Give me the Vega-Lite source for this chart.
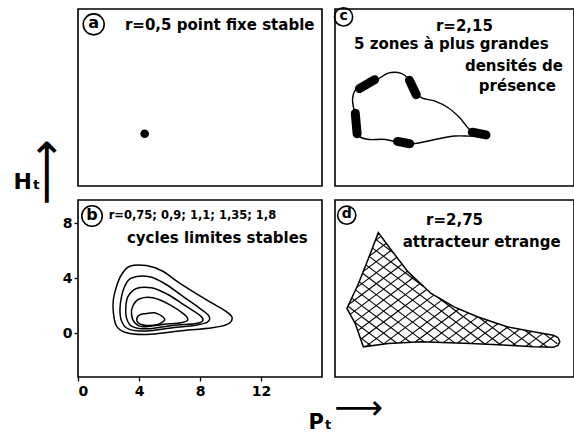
{
  "$schema": "https://vega.github.io/schema/vega-lite/v6.json",
  "background": "white",
  "padding": {"left": 12, "top": 3, "right": 0, "bottom": 4},
  "config": {
    "view": {"stroke": "black", "strokeWidth": 1.6},
    "font": "DejaVu Sans",
    "axis": {"labelFont": "DejaVu Sans", "labelFontWeight": "bold", "labelFontSize": 14, "labelColor": "black", "tickColor": "black", "tickWidth": 1.3, "domain": false, "grid": false, "titleColor": "black", "titleFont": "DejaVu Sans"},
    "text": {"font": "DejaVu Sans", "fontWeight": "bold", "color": "black"}
  },
  "datasets": {
    "fixed": [{"P": 4.37, "H": 0.61}],
    "tags": [
      {"panel": "a", "tag": "a", "P": 1.03, "H": 8.58},
      {"panel": "b", "tag": "b", "P": 0.92, "H": 8.53},
      {"panel": "c", "tag": "c", "P": 0.56, "H": 9.12},
      {"panel": "d", "tag": "d", "P": 0.77, "H": 8.59}
    ],
    "texts": [
      {"panel": "a", "kind": "r", "label": "r=0,5 point fixe stable", "P": 3.08, "H": 8.53},
      {"panel": "b", "kind": "r", "label": "r=0,75; 0,9; 1,1; 1,35; 1,8", "P": 2.01, "H": 8.53},
      {"panel": "b", "kind": "desc", "label": "cycles limites stables", "P": 3.21, "H": 6.95},
      {"panel": "c", "kind": "r", "label": "r=2,15", "P": 6.62, "H": 8.46},
      {"panel": "c", "kind": "desc", "label": "5 zones à plus grandes", "P": 1.25, "H": 7.13},
      {"panel": "c", "kind": "right", "label": "densités de", "P": 14.95, "H": 5.55},
      {"panel": "c", "kind": "right", "label": "présence", "P": 14.49, "H": 4.09},
      {"panel": "d", "kind": "r", "label": "r=2,75", "P": 5.97, "H": 8.24},
      {"panel": "d", "kind": "desc", "label": "attracteur etrange", "P": 4.44, "H": 6.66}
    ],
    "cycles": [
      {"cycle": 1, "i": 1, "P": 3.40, "H": 4.87}, {"cycle": 1, "i": 2, "P": 4.48, "H": 4.92}, {"cycle": 1, "i": 3, "P": 5.56, "H": 4.51}, {"cycle": 1, "i": 4, "P": 6.64, "H": 3.66}, {"cycle": 1, "i": 5, "P": 8.38, "H": 2.45}, {"cycle": 1, "i": 6, "P": 9.68, "H": 1.60}, {"cycle": 1, "i": 7, "P": 10.11, "H": 1.11}, {"cycle": 1, "i": 8, "P": 9.78, "H": 0.63}, {"cycle": 1, "i": 9, "P": 8.81, "H": 0.39}, {"cycle": 1, "i": 10, "P": 6.64, "H": 0.15}, {"cycle": 1, "i": 11, "P": 4.48, "H": -0.10}, {"cycle": 1, "i": 12, "P": 3.18, "H": 0.02}, {"cycle": 1, "i": 13, "P": 2.53, "H": 0.51}, {"cycle": 1, "i": 14, "P": 2.32, "H": 1.48}, {"cycle": 1, "i": 15, "P": 2.32, "H": 2.45}, {"cycle": 1, "i": 16, "P": 2.53, "H": 3.42}, {"cycle": 1, "i": 17, "P": 2.86, "H": 4.27},
      {"cycle": 2, "i": 1, "P": 3.51, "H": 4.02}, {"cycle": 2, "i": 2, "P": 4.70, "H": 4.10}, {"cycle": 2, "i": 3, "P": 5.78, "H": 3.54}, {"cycle": 2, "i": 4, "P": 6.86, "H": 2.69}, {"cycle": 2, "i": 5, "P": 7.94, "H": 1.84}, {"cycle": 2, "i": 6, "P": 8.59, "H": 1.24}, {"cycle": 2, "i": 7, "P": 8.48, "H": 0.80}, {"cycle": 2, "i": 8, "P": 7.73, "H": 0.58}, {"cycle": 2, "i": 9, "P": 6.21, "H": 0.39}, {"cycle": 2, "i": 10, "P": 4.48, "H": 0.15}, {"cycle": 2, "i": 11, "P": 3.29, "H": 0.31}, {"cycle": 2, "i": 12, "P": 2.86, "H": 0.87}, {"cycle": 2, "i": 13, "P": 2.75, "H": 1.72}, {"cycle": 2, "i": 14, "P": 2.86, "H": 2.69}, {"cycle": 2, "i": 15, "P": 3.07, "H": 3.42},
      {"cycle": 3, "i": 1, "P": 3.83, "H": 3.25}, {"cycle": 3, "i": 2, "P": 4.81, "H": 3.30}, {"cycle": 3, "i": 3, "P": 5.89, "H": 2.81}, {"cycle": 3, "i": 4, "P": 7.08, "H": 1.96}, {"cycle": 3, "i": 5, "P": 8.05, "H": 1.24}, {"cycle": 3, "i": 6, "P": 8.16, "H": 0.87}, {"cycle": 3, "i": 7, "P": 7.62, "H": 0.68}, {"cycle": 3, "i": 8, "P": 6.21, "H": 0.56}, {"cycle": 3, "i": 9, "P": 4.48, "H": 0.31}, {"cycle": 3, "i": 10, "P": 3.51, "H": 0.51}, {"cycle": 3, "i": 11, "P": 3.18, "H": 1.12}, {"cycle": 3, "i": 12, "P": 3.14, "H": 1.96}, {"cycle": 3, "i": 13, "P": 3.29, "H": 2.69},
      {"cycle": 4, "i": 1, "P": 4.05, "H": 2.50}, {"cycle": 4, "i": 2, "P": 4.91, "H": 2.57}, {"cycle": 4, "i": 3, "P": 6.00, "H": 2.08}, {"cycle": 4, "i": 4, "P": 6.97, "H": 1.36}, {"cycle": 4, "i": 5, "P": 7.19, "H": 0.95}, {"cycle": 4, "i": 6, "P": 6.75, "H": 0.75}, {"cycle": 4, "i": 7, "P": 5.56, "H": 0.63}, {"cycle": 4, "i": 8, "P": 4.26, "H": 0.46}, {"cycle": 4, "i": 9, "P": 3.72, "H": 0.75}, {"cycle": 4, "i": 10, "P": 3.51, "H": 1.36}, {"cycle": 4, "i": 11, "P": 3.61, "H": 2.01},
      {"cycle": 5, "i": 1, "P": 4.37, "H": 1.41}, {"cycle": 5, "i": 2, "P": 5.02, "H": 1.48}, {"cycle": 5, "i": 3, "P": 5.56, "H": 1.19}, {"cycle": 5, "i": 4, "P": 5.67, "H": 0.92}, {"cycle": 5, "i": 5, "P": 5.24, "H": 0.63}, {"cycle": 5, "i": 6, "P": 4.48, "H": 0.56}, {"cycle": 5, "i": 7, "P": 3.94, "H": 0.75}, {"cycle": 5, "i": 8, "P": 3.87, "H": 1.12}, {"cycle": 5, "i": 9, "P": 4.05, "H": 1.33}
    ],
    "loopC": [
      {"i": 1, "P": 1.15, "H": 3.10}, {"i": 2, "P": 1.36, "H": 3.83}, {"i": 3, "P": 2.01, "H": 4.19}, {"i": 4, "P": 2.77, "H": 4.56}, {"i": 5, "P": 3.53, "H": 5.04}, {"i": 6, "P": 4.39, "H": 4.99}, {"i": 7, "P": 4.83, "H": 4.56}, {"i": 8, "P": 5.26, "H": 3.71}, {"i": 9, "P": 5.69, "H": 3.22}, {"i": 10, "P": 6.56, "H": 2.98}, {"i": 11, "P": 7.42, "H": 2.50}, {"i": 12, "P": 8.18, "H": 1.77}, {"i": 13, "P": 8.83, "H": 0.92}, {"i": 14, "P": 9.59, "H": 0.56}, {"i": 15, "P": 8.94, "H": 0.44}, {"i": 16, "P": 7.86, "H": 0.44}, {"i": 17, "P": 6.56, "H": 0.19}, {"i": 18, "P": 5.26, "H": -0.10}, {"i": 19, "P": 4.39, "H": -0.10}, {"i": 20, "P": 3.31, "H": 0.19}, {"i": 21, "P": 2.23, "H": 0.19}, {"i": 22, "P": 1.58, "H": 0.44}, {"i": 23, "P": 1.36, "H": 1.41}, {"i": 24, "P": 1.26, "H": 2.25}
    ],
    "blobsC": [
      {"P": 1.6, "H": 3.9, "P2": 2.6, "H2": 4.55},
      {"P": 4.88, "H": 4.5, "P2": 5.33, "H2": 3.45},
      {"P": 9.0, "H": 0.72, "P2": 9.9, "H2": 0.52},
      {"P": 4.1, "H": 0.05, "P2": 4.9, "H2": -0.12},
      {"P": 1.33, "H": 2.1, "P2": 1.45, "H2": 0.6}
    ],
    "outlineD": [
      {"i": 1, "P": 2.84, "H": 7.32}, {"i": 2, "P": 3.70, "H": 6.04}, {"i": 3, "P": 4.79, "H": 4.46}, {"i": 4, "P": 6.30, "H": 2.89}, {"i": 5, "P": 7.81, "H": 1.91}, {"i": 6, "P": 9.33, "H": 1.19}, {"i": 7, "P": 11.28, "H": 0.46}, {"i": 8, "P": 13.01, "H": 0.09}, {"i": 9, "P": 14.31, "H": -0.15}, {"i": 10, "P": 14.62, "H": -0.32}, {"i": 11, "P": 14.74, "H": -0.63}, {"i": 12, "P": 14.62, "H": -0.90}, {"i": 13, "P": 14.31, "H": -1.04}, {"i": 14, "P": 13.01, "H": -1.00}, {"i": 15, "P": 11.06, "H": -0.87}, {"i": 16, "P": 8.90, "H": -0.75}, {"i": 17, "P": 5.65, "H": -0.63}, {"i": 18, "P": 3.49, "H": -0.75}, {"i": 19, "P": 1.86, "H": -1.00}, {"i": 20, "P": 1.32, "H": 0.71}, {"i": 21, "P": 0.78, "H": 1.80}, {"i": 22, "P": 1.54, "H": 3.61}, {"i": 23, "P": 2.19, "H": 5.43}
    ],
    "hatchD": [
      {"P": 13.69, "H": -0.04, "P2": 14.58, "H2": -0.78},
      {"P": 12.45, "H": 0.21, "P2": 13.93, "H2": -1.03},
      {"P": 11.16, "H": 0.50, "P2": 12.94, "H2": -0.99},
      {"P": 2.67, "H": 6.83, "P2": 3.82, "H2": 5.86},
      {"P": 9.44, "H": 1.14, "P2": 11.90, "H2": -0.92},
      {"P": 2.45, "H": 6.21, "P2": 5.82, "H2": 3.38},
      {"P": 6.78, "H": 2.58, "P2": 10.87, "H2": -0.87},
      {"P": 2.24, "H": 5.59, "P2": 9.85, "H2": -0.81},
      {"P": 2.03, "H": 4.97, "P2": 8.83, "H2": -0.75},
      {"P": 1.81, "H": 4.36, "P2": 7.84, "H2": -0.71},
      {"P": 1.58, "H": 3.75, "P2": 6.84, "H2": -0.68},
      {"P": 1.34, "H": 3.15, "P2": 5.85, "H2": -0.64},
      {"P": 1.10, "H": 2.55, "P2": 4.94, "H2": -0.67},
      {"P": 0.85, "H": 1.96, "P2": 4.04, "H2": -0.72},
      {"P": 1.27, "H": 0.81, "P2": 3.18, "H2": -0.79},
      {"P": 1.64, "H": -0.31, "P2": 2.37, "H2": -0.92},
      {"P": 3.01, "H": 7.05, "P2": 2.64, "H2": 6.74},
      {"P": 3.36, "H": 6.55, "P2": 2.25, "H2": 5.61},
      {"P": 3.70, "H": 6.04, "P2": 1.84, "H2": 4.48},
      {"P": 4.05, "H": 5.53, "P2": 1.42, "H2": 3.31},
      {"P": 4.40, "H": 5.02, "P2": 0.90, "H2": 2.08},
      {"P": 4.75, "H": 4.52, "P2": 0.99, "H2": 1.36},
      {"P": 5.16, "H": 4.07, "P2": 1.27, "H2": 0.80},
      {"P": 5.59, "H": 3.62, "P2": 1.49, "H2": 0.17},
      {"P": 6.01, "H": 3.18, "P2": 1.69, "H2": -0.45},
      {"P": 6.48, "H": 2.77, "P2": 2.03, "H2": -0.97},
      {"P": 7.02, "H": 2.42, "P2": 3.19, "H2": -0.79},
      {"P": 7.56, "H": 2.08, "P2": 4.25, "H2": -0.71},
      {"P": 8.13, "H": 1.76, "P2": 5.26, "H2": -0.65},
      {"P": 8.74, "H": 1.47, "P2": 6.21, "H2": -0.65},
      {"P": 9.35, "H": 1.18, "P2": 7.13, "H2": -0.68},
      {"P": 10.01, "H": 0.93, "P2": 8.04, "H2": -0.72},
      {"P": 10.67, "H": 0.68, "P2": 8.95, "H2": -0.75},
      {"P": 11.33, "H": 0.44, "P2": 9.84, "H2": -0.80},
      {"P": 12.10, "H": 0.28, "P2": 10.73, "H2": -0.85},
      {"P": 12.86, "H": 0.12, "P2": 11.62, "H2": -0.91},
      {"P": 13.63, "H": -0.02, "P2": 12.51, "H2": -0.97},
      {"P": 14.36, "H": -0.21, "P2": 13.41, "H2": -1.01}
    ]
  },
  "columns": 2,
  "spacing": {"row": 14, "column": 13},
  "bounds": "flush",
  "concat": [
    {
      "width": 244, "height": 177,
      "encoding": {
        "x": {"field": "P", "type": "quantitative", "scale": {"domain": [0, 16], "nice": false, "zero": false}, "axis": null},
        "y": {"field": "H", "type": "quantitative", "scale": {"domain": [-3.2, 9.7], "nice": false, "zero": false},
          "axis": {"title": "⟶", "labels": false, "ticks": false, "domain": false, "titleAngle": 270, "titleX": -32, "titleY": 163, "titleFontSize": 46, "titleFontWeight": "normal", "titleAlign": "center", "titleBaseline": "middle", "titlePadding": 0}}
      },
      "layer": [
        {"data": {"name": "fixed"}, "mark": {"type": "point", "shape": "circle", "filled": true, "color": "black", "size": 75, "opacity": 1}},
        {"data": {"name": "tags"}, "transform": [{"filter": "datum.panel === 'a'"}], "mark": {"type": "point", "shape": "circle", "filled": false, "stroke": "black", "strokeWidth": 1.6, "size": 440, "opacity": 1}},
        {"data": {"name": "tags"}, "transform": [{"filter": "datum.panel === 'a'"}], "mark": {"type": "text", "fontSize": 16, "align": "center", "baseline": "middle", "dy": -1}, "encoding": {"text": {"field": "tag"}}},
        {"data": {"name": "texts"}, "transform": [{"filter": "datum.panel === 'a'"}], "mark": {"type": "text", "fontSize": 15, "align": "left", "baseline": "middle"}, "encoding": {"text": {"field": "label"}}}
      ]
    },
    {
      "width": 239, "height": 177,
      "encoding": {
        "x": {"field": "P", "type": "quantitative", "scale": {"domain": [0, 15.67], "nice": false, "zero": false}, "axis": null},
        "y": {"field": "H", "type": "quantitative", "scale": {"domain": [-3.2, 9.7], "nice": false, "zero": false}, "axis": null}
      },
      "layer": [
        {"data": {"name": "loopC"}, "mark": {"type": "line", "interpolate": "cardinal-closed", "color": "black", "strokeWidth": 1.4}, "encoding": {"order": {"field": "i", "type": "quantitative"}}},
        {"data": {"name": "blobsC"}, "mark": {"type": "rule", "color": "black", "strokeWidth": 9, "strokeCap": "round"}, "encoding": {"x2": {"field": "P2"}, "y2": {"field": "H2"}}},
        {"data": {"name": "tags"}, "transform": [{"filter": "datum.panel === 'c'"}], "mark": {"type": "point", "shape": "circle", "filled": false, "stroke": "black", "strokeWidth": 1.6, "size": 330, "opacity": 1}},
        {"data": {"name": "tags"}, "transform": [{"filter": "datum.panel === 'c'"}], "mark": {"type": "text", "fontSize": 14, "align": "center", "baseline": "middle", "dy": -1}, "encoding": {"text": {"field": "tag"}}},
        {"data": {"name": "texts"}, "transform": [{"filter": "datum.panel === 'c' && datum.kind !== 'right'"}], "mark": {"type": "text", "fontSize": 15, "align": "left", "baseline": "middle"}, "encoding": {"text": {"field": "label"}}},
        {"data": {"name": "texts"}, "transform": [{"filter": "datum.panel === 'c' && datum.kind === 'right'"}], "mark": {"type": "text", "fontSize": 15, "align": "right", "baseline": "middle"}, "encoding": {"text": {"field": "label"}}}
      ]
    },
    {
      "width": 244, "height": 177,
      "encoding": {
        "x": {"field": "P", "type": "quantitative", "scale": {"domain": [0, 16], "nice": false, "zero": false},
          "axis": {"values": [0, 4, 8, 12], "tickSize": 4, "labelPadding": 3, "title": "Pₜ", "titleX": 230, "titleY": 45, "titleAlign": "left", "titleBaseline": "middle", "titleFontSize": 21, "titleFontWeight": "bold"}},
        "y": {"field": "H", "type": "quantitative", "scale": {"domain": [-3.2, 9.7], "nice": false, "zero": false},
          "axis": {"values": [0, 4, 8], "tickSize": 4, "labelPadding": 2, "title": "Hₜ", "titleAngle": 0, "titleX": -65, "titleY": -19, "titleAlign": "left", "titleBaseline": "middle", "titleFontSize": 22, "titleFontWeight": "bold"}}
      },
      "layer": [
        {"data": {"name": "cycles"}, "mark": {"type": "line", "interpolate": "cardinal-closed", "color": "black", "strokeWidth": 1.5}, "encoding": {"detail": {"field": "cycle"}, "order": {"field": "i", "type": "quantitative"}}},
        {"data": {"name": "tags"}, "transform": [{"filter": "datum.panel === 'b'"}], "mark": {"type": "point", "shape": "circle", "filled": false, "stroke": "black", "strokeWidth": 1.6, "size": 420, "opacity": 1}},
        {"data": {"name": "tags"}, "transform": [{"filter": "datum.panel === 'b'"}], "mark": {"type": "text", "fontSize": 16, "align": "center", "baseline": "middle", "dy": -1}, "encoding": {"text": {"field": "tag"}}},
        {"data": {"name": "texts"}, "transform": [{"filter": "datum.panel === 'b' && datum.kind === 'r'"}], "mark": {"type": "text", "fontSize": 11.5, "align": "left", "baseline": "middle"}, "encoding": {"text": {"field": "label"}}},
        {"data": {"name": "texts"}, "transform": [{"filter": "datum.panel === 'b' && datum.kind === 'desc'"}], "mark": {"type": "text", "fontSize": 15, "align": "left", "baseline": "middle"}, "encoding": {"text": {"field": "label"}}}
      ]
    },
    {
      "width": 239, "height": 177,
      "encoding": {
        "x": {"field": "P", "type": "quantitative", "scale": {"domain": [0, 15.67], "nice": false, "zero": false},
          "axis": {"title": "⟶", "labels": false, "ticks": false, "domain": false, "titleX": 23, "titleY": 31, "titleFontSize": 34, "titleFontWeight": "normal", "titleAlign": "center", "titleBaseline": "middle", "titlePadding": 0}},
        "y": {"field": "H", "type": "quantitative", "scale": {"domain": [-3.2, 9.7], "nice": false, "zero": false}, "axis": null}
      },
      "layer": [
        {"data": {"name": "hatchD"}, "mark": {"type": "rule", "color": "black", "strokeWidth": 1.1}, "encoding": {"x2": {"field": "P2"}, "y2": {"field": "H2"}}},
        {"data": {"name": "outlineD"}, "mark": {"type": "line", "interpolate": "linear-closed", "color": "black", "strokeWidth": 1.5}, "encoding": {"order": {"field": "i", "type": "quantitative"}}},
        {"data": {"name": "tags"}, "transform": [{"filter": "datum.panel === 'd'"}], "mark": {"type": "point", "shape": "circle", "filled": false, "stroke": "black", "strokeWidth": 1.6, "size": 330, "opacity": 1}},
        {"data": {"name": "tags"}, "transform": [{"filter": "datum.panel === 'd'"}], "mark": {"type": "text", "fontSize": 14, "align": "center", "baseline": "middle", "dy": -1}, "encoding": {"text": {"field": "tag"}}},
        {"data": {"name": "texts"}, "transform": [{"filter": "datum.panel === 'd'"}], "mark": {"type": "text", "fontSize": 15, "align": "left", "baseline": "middle"}, "encoding": {"text": {"field": "label"}}}
      ]
    }
  ]
}
